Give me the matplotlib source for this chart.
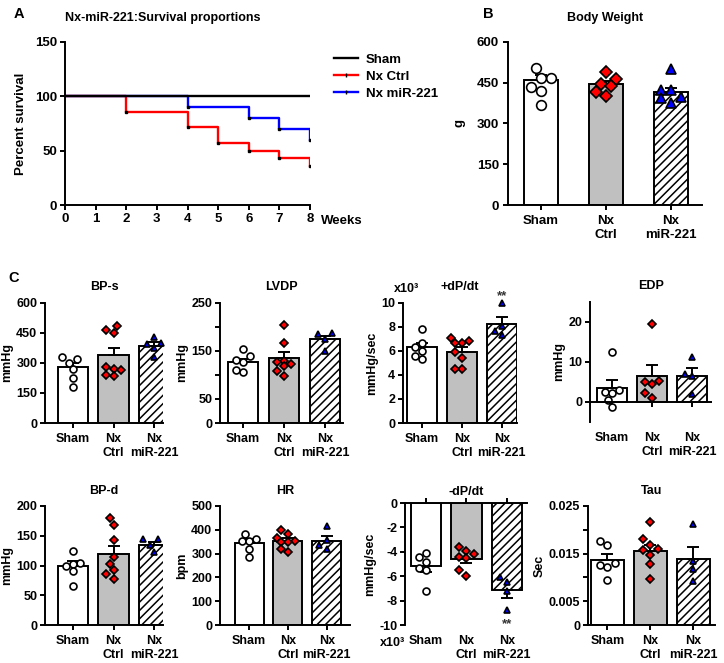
import numpy as np
import matplotlib
matplotlib.use("Agg")
import matplotlib.pyplot as plt
from matplotlib.lines import Line2D

plt.rcParams['font.family'] = ['Liberation Sans', 'DejaVu Sans']
plt.rcParams['font.weight'] = 'bold'
plt.rcParams['axes.labelweight'] = 'bold'
plt.rcParams['axes.titleweight'] = 'bold'
plt.rcParams['axes.unicode_minus'] = False
plt.rcParams['font.size'] = 9
plt.rcParams['hatch.linewidth'] = 1.1
plt.rcParams['axes.linewidth'] = 1.4

W, H = 724, 663

# --- survival data (percent) ---
sham_t = [0, 8]
sham_s = [100, 100]
ctrl_t = [0, 2, 4, 5, 6, 7, 8]
ctrl_s = [100, 85.7, 71.4, 57.1, 50.0, 42.9, 35.7]
mir_t = [0, 4, 6, 7, 8]
mir_s = [100, 90, 80, 70, 60]

groups = ['Sham', 'Nx\nCtrl', 'Nx\nmiR-221']

# --- body weight (g) ---
bw_mean = [458, 445, 415]
bw_sem = [20, 10, 14]
bw_pts = [[502, 468, 466, 435, 419, 368],
          [490, 463, 444, 437, 414, 402],
          [500, 423, 423, 398, 393, 375]]

# --- hemodynamics ---
bps_mean = [278, 340, 386]
bps_sem = [20, 35, 20]
bps_pts = [[330, 320, 300, 268, 225, 180],
           [485, 465, 452, 280, 272, 265, 240, 235],
           [432, 402, 395, 373, 330]]

lvdp_mean = [128, 136, 174]
lvdp_sem = [6, 12, 7]
lvdp_pts = [[154, 140, 132, 128, 110, 106],
            [204, 167, 130, 128, 122, 118, 108, 98],
            [188, 185, 175, 150]]

pdp_mean = [6.3, 5.9, 8.25]
pdp_sem = [0.35, 0.4, 0.55]
pdp_pts = [[7.8, 6.7, 6.3, 6.0, 5.6, 5.3],
           [7.1, 6.8, 6.7, 6.7, 5.9, 5.4, 4.5, 4.5],
           [10.0, 8.1, 7.7, 7.3]]

edp_mean = [3.6, 6.4, 6.6]
edp_sem = [1.8, 2.8, 2.0]
edp_pts = [[12.5, 3.0, 2.5, 2.2, 0.5, -1.3],
           [19.5, 5.3, 4.9, 4.5, 2.2, 1.1],
           [11.3, 7.0, 6.5, 2.0]]

bpd_mean = [100, 120, 135]
bpd_sem = [7, 13, 5]
bpd_pts = [[125, 105, 103, 100, 90, 65],
           [180, 168, 143, 115, 103, 92, 85, 77],
           [145, 145, 135, 123]]

hr_mean = [346, 355, 355]
hr_sem = [14, 10, 20]
hr_pts = [[382, 360, 355, 352, 318, 287],
          [398, 381, 365, 355, 350, 348, 318, 305],
          [415, 356, 335, 318]]

ndp_mean = [-5.2, -4.6, -7.15]
ndp_sem = [0.45, 0.3, 0.65]
ndp_pts = [[-4.1, -4.4, -4.8, -5.3, -5.5, -7.2],
           [-3.6, -3.9, -4.2, -4.4, -4.5, -5.5, -6.0],
           [-6.1, -6.5, -7.2, -8.8]]

tau_mean = [0.0136, 0.0156, 0.0139]
tau_sem = [0.0014, 0.0012, 0.0025]
tau_pts = [[0.0176, 0.0169, 0.0130, 0.0126, 0.0122, 0.0094],
           [0.0217, 0.0181, 0.0169, 0.0160, 0.0158, 0.0148, 0.0129, 0.0096],
           [0.0212, 0.0134, 0.0117, 0.0092]]

bar_face = ['white', '#c0c0c0', 'white']
bar_hatch = [None, None, '////']
mk = [('o', 'white'), ('D', 'red'), ('^', 'blue')]


def box(l, t, r, b):
    return [l / W, 1 - b / H, (r - l) / W, (b - t) / H]


def swarm_offsets(ax, vals, d, maxw):
    # crude beeswarm in pixel space, returns x offsets in data units
    pos = ax.get_position()
    x0, x1 = ax.get_xlim()
    y0, y1 = ax.get_ylim()
    sx = pos.width * W / (x1 - x0)
    sy = pos.height * H / (y1 - y0)
    cands = [0.0]
    for k in range(1, 12):
        cands += [-k * d * 0.5, k * d * 0.5]
    cands = [c for c in cands if abs(c) <= maxw]
    placed = []
    offs = np.zeros(len(vals))
    for i in np.argsort(vals):
        y = vals[i] * sy
        best, best_ov = 0.0, 1e9
        for c in cands:
            ov = sum(max(0, d - np.hypot(c - px, y - py)) for px, py in placed)
            if ov < best_ov - 1e-6:
                best, best_ov = c, ov
            if ov == 0:
                break
        offs[i] = best / sx
        placed.append((best, y))
    return offs


def bar_panel(ax, means, sems, pts, xlim, ylim, ms=5, width=0.75):
    x = np.arange(3)
    ax.set_xlim(*xlim)
    ax.set_ylim(*ylim)
    pos = ax.get_position()
    bar_px = width * pos.width * W / (xlim[1] - xlim[0])
    for i in range(3):
        ax.bar(x[i], means[i], width=width, color=bar_face[i], edgecolor='black',
               linewidth=1.4, hatch=bar_hatch[i], zorder=2)
        if means[i] >= 0:
            yerr = [[0], [sems[i]]]
        else:
            yerr = [[sems[i]], [0]]
        ax.errorbar(x[i], means[i], yerr=yerr, color='black', capsize=4,
                    elinewidth=1.4, capthick=1.4, zorder=3)
        p = np.array(pts[i], dtype=float)
        d = ms * 1.39 * 1.05
        offs = swarm_offsets(ax, p, d, bar_px * 0.45)
        m, c = mk[i]
        size = ms * 0.85 if m == 'D' else ms
        ax.plot(x[i] + offs, p, ls='none', marker=m, markersize=size,
                markerfacecolor=c, markeredgecolor='black', markeredgewidth=1.2,
                zorder=4, clip_on=False)
    ax.set_xticks(x)
    ax.set_xticklabels(groups)
    ax.spines['top'].set_visible(False)
    ax.spines['right'].set_visible(False)
    ax.tick_params(width=1.4, length=3.5, labelsize=9, pad=2)
    ax.tick_params(axis='x', pad=4)


fig = plt.figure(figsize=(W / 100, H / 100), dpi=100)

# ---------- A: survival ----------
axA = fig.add_axes(box(65, 41.7, 310, 205))
axA.step(ctrl_t, ctrl_s, where='post', color='red', lw=1.7, zorder=2)
axA.step(mir_t, mir_s, where='post', color='blue', lw=1.7, zorder=2)
axA.plot(sham_t, sham_s, color='black', lw=1.7, zorder=3)
axA.plot(ctrl_t[1:], ctrl_s[1:], ls='none', marker='s', ms=1.8, color='black', zorder=4)
axA.plot(mir_t[1:], mir_s[1:], ls='none', marker='s', ms=1.8, color='black', zorder=4)
axA.set_xlim(0, 8)
axA.set_ylim(0, 150)
axA.set_xticks(range(9))
axA.set_yticks([0, 50, 100, 150])
axA.spines['top'].set_visible(False)
axA.spines['right'].set_visible(False)
axA.tick_params(width=1.4, length=3.5, labelsize=9.5, pad=2)
axA.set_ylabel('Percent survival', fontsize=9.5, labelpad=6)
axA.set_title('Nx-miR-221:Survival proportions', fontsize=9, loc='left', pad=15)
fig.text(321 / W, 1 - 221 / H, 'Weeks', fontsize=9.5, va='center')
handles = [Line2D([], [], color='black', lw=1.7),
           Line2D([], [], color='red', lw=1.7, marker='|', ms=3, mec='black'),
           Line2D([], [], color='blue', lw=1.7, marker='|', ms=3, mec='black')]
fig.legend(handles, ['Sham', 'Nx Ctrl', 'Nx miR-221'], loc='upper left',
           bbox_to_anchor=(322 / W, 1 - 42 / H), frameon=False, fontsize=9.5,
           handlelength=1.8, labelspacing=0.35, handletextpad=0.6)

# ---------- B: body weight ----------
axB = fig.add_axes(box(508, 41.7, 702, 205))
bar_panel(axB, bw_mean, bw_sem, bw_pts, (-0.51, 2.48), (0, 600), ms=7, width=0.52)
axB.set_yticks([0, 150, 300, 450, 600])
axB.tick_params(axis='y', labelsize=9.5, pad=3)
axB.tick_params(axis='x', labelsize=9.5)
axB.set_ylabel('g', labelpad=8, fontsize=9.5)
axB.set_title('Body Weight', fontsize=9, pad=15)

# ---------- C: hemodynamics ----------
row1 = (303, 423)
row2 = (506, 625)

ax = fig.add_axes(box(45, row1[0], 163, row1[1]))
bar_panel(ax, bps_mean, bps_sem, bps_pts, (-0.69, 2.22), (0, 600))
ax.set_yticks([0, 150, 300, 450, 600])
ax.set_ylabel('mmHg', labelpad=2)
ax.set_title('BP-s', fontsize=9, pad=9)

ax = fig.add_axes(box(220, row1[0], 343, row1[1]))
bar_panel(ax, lvdp_mean, lvdp_sem, lvdp_pts, (-0.56, 2.44), (0, 250))
ax.set_yticks([0, 50, 100, 150, 200, 250])
ax.set_yticklabels(['0', '50', '', '150', '', '250'])
ax.set_ylabel('mmHg', labelpad=2)
ax.set_title('LVDP', fontsize=9, pad=9)

ax = fig.add_axes(box(403, row1[0], 517, row1[1]))
bar_panel(ax, pdp_mean, pdp_sem, pdp_pts, (-0.48, 2.38), (0, 10))
ax.set_yticks([0, 2, 4, 6, 8, 10])
ax.set_ylabel('mmHg/sec', labelpad=2)
ax.set_title('+dP/dt', fontsize=9, pad=9)
fig.text(407 / W, 1 - 289 / H, 'x10³', fontsize=9, ha='center', va='center')
ax.text(2, 10.55, '**', ha='center', va='center', fontsize=9.5, color='#333333')

ax = fig.add_axes(box(590, 302, 712, 422))
bar_panel(ax, edp_mean, edp_sem, edp_pts, (-0.55, 2.5), (-5, 25))
ax.set_yticks([0, 10, 20])
ax.spines['bottom'].set_visible(False)
ax.tick_params(axis='x', bottom=False)
ax.axhline(0, color='black', lw=1.4, zorder=5)
ax.plot(np.arange(3), np.zeros(3), ls='none', marker=3, ms=3.5, mew=1.4, color='black', clip_on=False)
ax.set_ylabel('mmHg', labelpad=2)
ax.set_title('EDP', fontsize=9, pad=9)

ax = fig.add_axes(box(45, row2[0], 163, row2[1]))
bar_panel(ax, bpd_mean, bpd_sem, bpd_pts, (-0.69, 2.22), (0, 200))
ax.set_yticks([0, 50, 100, 150, 200])
ax.set_ylabel('mmHg', labelpad=2)
ax.set_title('BP-d', fontsize=9, pad=9)

ax = fig.add_axes(box(220, row2[0], 350, row2[1]))
bar_panel(ax, hr_mean, hr_sem, hr_pts, (-0.75, 2.6), (0, 500))
ax.set_yticks([0, 100, 200, 300, 400, 500])
ax.set_ylabel('bpm', labelpad=2)
ax.set_title('HR', fontsize=9, pad=9)

ax = fig.add_axes(box(405, 503, 527, row2[1]))
bar_panel(ax, ndp_mean, ndp_sem, ndp_pts, (-0.52, 2.5), (-10, 0))
ax.set_yticks([0, -2, -4, -6, -8, -10])
ax.spines['bottom'].set_visible(False)
ax.spines['top'].set_visible(True)
ax.tick_params(axis='x', bottom=False, top=True, labelbottom=True, labeltop=False)
ax.set_ylabel('mmHg/sec', labelpad=2)
ax.set_title('-dP/dt', fontsize=9, pad=6)
fig.text(393 / W, 1 - 643 / H, 'x10³', fontsize=9, ha='center', va='center')
ax.text(2, -9.95, '**', ha='center', va='center', fontsize=9.5, color='#333333')

ax = fig.add_axes(box(588, row2[0], 715, row2[1]))
bar_panel(ax, tau_mean, tau_sem, tau_pts, (-0.45, 2.5), (0, 0.025))
ax.set_yticks([0, 0.005, 0.01, 0.015, 0.02, 0.025])
ax.set_yticklabels(['0', '0.005', '', '0.015', '', '0.025'])
ax.set_ylabel('Sec', labelpad=2)
ax.set_title('Tau', fontsize=9, pad=9)

# panel letters
fig.text(14 / W, 1 - 14 / H, 'A', fontsize=10.5, va='center')
fig.text(483 / W, 1 - 14 / H, 'B', fontsize=10.5, va='center')
fig.text(8 / W, 1 - 278 / H, 'C', fontsize=10.5, va='center')

fig.savefig('out.png', dpi=100)
